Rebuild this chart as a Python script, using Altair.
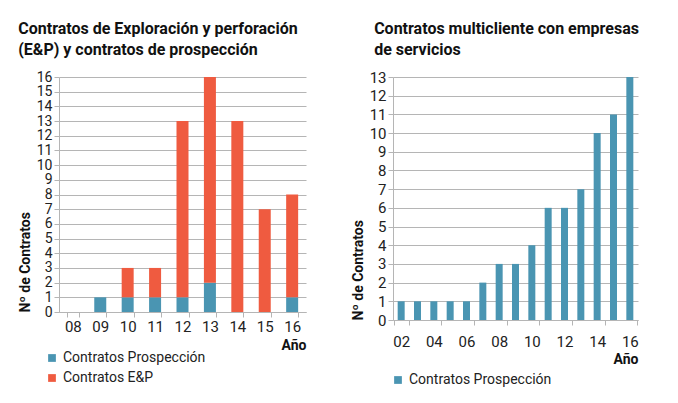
import altair as alt
import pandas as pd

# Left chart data
years_left = ["08", "09", "10", "11", "12", "13", "14", "15", "16"]
prosp_left = [0, 1, 1, 1, 1, 2, 0, 0, 1]
ep_left = [0, 0, 2, 2, 12, 14, 13, 7, 7]

# Right chart data
years_right = ["02", "03", "04", "05", "06", "07", "08", "09", "10",
               "11", "12", "13", "14", "15", "16"]
prosp_right = [1, 1, 1, 1, 1, 2, 3, 3, 4, 6, 6, 7, 10, 11, 13]
right_tick_labels = ["02", "04", "06", "08", "10", "12", "14", "16"]

series = ["Contratos Prospección", "Contratos E&P"]
colors = ["#4a95b2", "#ef5b40"]

FONT = "Roboto"

rows = []
for y, p, e in zip(years_left, prosp_left, ep_left):
    rows.append({"year": y, "serie": series[0], "value": p, "ord": 0})
    rows.append({"year": y, "serie": series[1], "value": e, "ord": 1})
df_left = pd.DataFrame(rows)

df_right = pd.DataFrame({"year": years_right, "value": prosp_right,
                         "serie": [series[0]] * len(years_right)})

left = alt.Chart(df_left).mark_bar(size=12).encode(
    x=alt.X("year:N", sort=years_left,
            scale=alt.Scale(paddingInner=0.55, paddingOuter=0.28),
            axis=alt.Axis(title="Año", titleAnchor="end", labelAngle=0,
                          tickBand="extent", labelPadding=2, titlePadding=4)),
    y=alt.Y("value:Q", stack="zero",
            scale=alt.Scale(domain=[0, 16], nice=False),
            axis=alt.Axis(title="Nº de Contratos", titleAnchor="start",
                          values=list(range(0, 17)), tickCount=17,
                          labelOverlap=False, labelFontSize=14)),
    color=alt.Color("serie:N",
                    scale=alt.Scale(domain=series, range=colors),
                    legend=alt.Legend(title=None, orient="none",
                                      legendX=-14, legendY=39 + 235,
                                      direction="vertical")),
    order=alt.Order("ord:Q"),
).properties(
    width=247, height=235,
    title=alt.TitleParams(["Contratos de Exploración  y perforación",
                           "(E&P) y contratos de prospección"],
                          anchor="start", fontSize=16, fontWeight="bold",
                          font=FONT, color="#111", offset=12, lineHeight=21),
)

right = alt.Chart(df_right).mark_bar(size=7).encode(
    x=alt.X("year:N", sort=years_right,
            axis=alt.Axis(title="Año", titleAnchor="end", labelAngle=0,
                          values=right_tick_labels, tickBand="extent",
                          labelPadding=9, titlePadding=3)),
    y=alt.Y("value:Q",
            scale=alt.Scale(domain=[0, 13], nice=False),
            axis=alt.Axis(title="Nº de Contratos", titleAnchor="start",
                          values=list(range(0, 14)), tickCount=14,
                          labelOverlap=False)),
    color=alt.Color("serie:N",
                    scale=alt.Scale(domain=[series[0]], range=[colors[0]]),
                    legend=alt.Legend(title=None, orient="none",
                                      legendX=-2, legendY=53 + 243,
                                      direction="vertical")),
).properties(
    width=245, height=243,
    title=alt.TitleParams(["Contratos multicliente con empresas",
                           "de servicios"],
                          anchor="start", fontSize=16, fontWeight="bold",
                          font=FONT, color="#111", offset=12, lineHeight=21,
                          dx=23),
)

chart = alt.hconcat(left, right, spacing=45).resolve_scale(
    color="independent"
).properties(
    padding={"left": 10, "top": 13, "right": 5, "bottom": 5}
).configure_view(stroke=None).configure_axis(
    labelFont=FONT, labelFontSize=15, labelColor="#222",
    titleFont=FONT, titleFontSize=14, titleFontWeight="bold", titleColor="#111",
    gridColor="#b5b5b5", gridWidth=1.2, domainColor="#b5b5b5",
    tickColor="#b5b5b5", tickSize=5,
).configure_axisX(grid=False).configure_legend(
    labelFont=FONT, labelFontSize=14, labelColor="#222",
    symbolType="square", symbolSize=60, symbolStrokeWidth=0, rowPadding=6,
)

chart.save("out.html", embed_options={"renderer": "svg", "actions": False})
